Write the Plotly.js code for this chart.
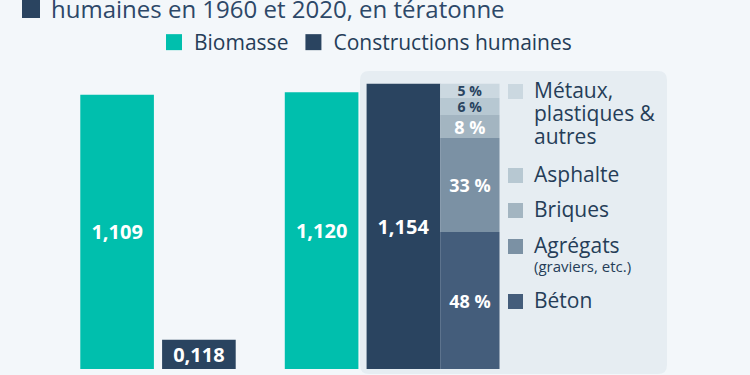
<!DOCTYPE html>
<html>
<head>
<meta charset="utf-8">
<script src="https://cdn.plot.ly/plotly-3.0.1.min.js"></script>
<style>
  html, body { margin: 0; padding: 0; background: #f3f7fa; }
  #chart { width: 750px; height: 375px; }
</style>
</head>
<body>
<div id="chart"></div>
<script>
// ---------- data ----------
const years = ['1960', '2020'];
const biomasse = [1.109, 1.120];            // teratonnes
const constructions = [0.118, 1.154];       // teratonnes
const components = ['Béton', 'Agrégats', 'Briques', 'Asphalte', 'Métaux, plastiques & autres'];
const componentPct = [48, 33, 8, 6, 5];     // % of 2020 human-made mass
const componentYear = '2020';
const titleText = 'humaines en 1960 et 2020, en tératonne';
const seriesNames = ['Biomasse', 'Constructions humaines'];

// ---------- styling ----------
const W = 750, H = 375;
const M = {l: 0, r: 0, t: 80, b: 6};
const plotW = W - M.l - M.r, plotH = H - M.t - M.b;
const bottomPx = H - M.b;
const pxPerUnit = 247.2;
const px2x = px => (px - M.l) / plotW;
const px2y = py => (bottomPx - py) / plotH;

const FONT = 'Open Sans, sans-serif';
const teal = '#00bfad';
const navy = '#2a4460';
const textNavy = '#253d58';
const compColors = ['#445d7b', '#7b91a4', '#a3b5c1', '#b7c8d2', '#cbd8e0'];
const compTextColors = ['#ffffff', '#ffffff', '#ffffff', navy, navy];
const compTextSizes = [18, 18, 18, 14, 14];

// ---------- traces ----------
const traces = [];
traces.push({
  type: 'bar', x: years, y: biomasse, name: seriesNames[0], showlegend: false,
  offset: -0.38, width: 0.36, marker: {color: teal, line: {width: 0}},
  texttemplate: '%{y:.3f}', textposition: 'inside', insidetextanchor: 'middle',
  textangle: 0, constraintext: 'none',
  textfont: {family: FONT, size: 20, color: '#ffffff', weight: 700}, hoverinfo: 'skip'
});
traces.push({
  type: 'bar', x: years, y: constructions, name: seriesNames[1], showlegend: false,
  offset: 0.02, width: 0.36, marker: {color: navy, line: {width: 0}},
  texttemplate: '%{y:.3f}', textposition: 'inside', insidetextanchor: 'middle',
  textangle: 0, constraintext: 'none',
  textfont: {family: FONT, size: 20, color: '#ffffff', weight: 700}, hoverinfo: 'skip'
});
const total2020 = constructions[years.indexOf(componentYear)];
let cum = 0;
components.forEach((c, i) => {
  const v = total2020 * componentPct[i] / 100;
  traces.push({
    type: 'bar', x: [componentYear], y: [v], base: [cum], name: c, showlegend: false,
    offset: 0.38, width: 0.29, marker: {color: compColors[i], line: {width: 0}},
    text: [componentPct[i] + ' %'], textposition: 'inside', insidetextanchor: 'middle',
    textangle: 0, constraintext: 'none',
    textfont: {family: FONT, size: compTextSizes[i], color: compTextColors[i], weight: 700},
    hoverinfo: 'skip'
  });
  cum += v;
});
// legend entries (top)
[teal, navy].forEach((col, i) => {
  traces.push({
    type: 'scatter', mode: 'markers', x: [null], y: [null], name: seriesNames[i],
    marker: {symbol: 'square', size: 16, color: col}, hoverinfo: 'skip'
  });
});

// ---------- layout decorations ----------
const shapes = [];
// grey panel with rounded corners
(function () {
  const x0 = 360, x1 = 667, y0 = 71, y1 = 374, r = 9;
  const X = px => px2x(px), Y = py => px2y(py);
  const path = `M ${X(x0 + r)},${Y(y0)} L ${X(x1 - r)},${Y(y0)} Q ${X(x1)},${Y(y0)} ${X(x1)},${Y(y0 + r)}` +
    ` L ${X(x1)},${Y(y1 - r)} Q ${X(x1)},${Y(y1)} ${X(x1 - r)},${Y(y1)}` +
    ` L ${X(x0 + r)},${Y(y1)} Q ${X(x0)},${Y(y1)} ${X(x0)},${Y(y1 - r)}` +
    ` L ${X(x0)},${Y(y0 + r)} Q ${X(x0)},${Y(y0)} ${X(x0 + r)},${Y(y0)} Z`;
  shapes.push({type: 'path', xref: 'paper', yref: 'paper', path: path,
    fillcolor: '#e6edf2', line: {width: 0}, layer: 'below'});
})();
// title square
shapes.push({type: 'rect', xref: 'paper', yref: 'paper',
  x0: px2x(22), x1: px2x(40), y0: px2y(18), y1: px2y(-1),
  fillcolor: '#2a4460', line: {width: 0}});

// right-hand component legend
const annotations = [];
const legItems = [
  {idx: 4, lines: ['Métaux,', 'plastiques &', 'autres'], base: 98},
  {idx: 3, lines: ['Asphalte'], base: 182},
  {idx: 2, lines: ['Briques'], base: 217},
  {idx: 1, lines: ['Agrégats'], base: 253, sub: '(graviers, etc.)'},
  {idx: 0, lines: ['Béton'], base: 308}
];
legItems.forEach(it => {
  shapes.push({type: 'rect', xref: 'paper', yref: 'paper',
    x0: px2x(508), x1: px2x(523), y0: px2y(it.base + 1), y1: px2y(it.base - 14),
    fillcolor: compColors[it.idx], line: {width: 0}});
  it.lines.forEach((ln, j) => {
    const b = it.base + j * 23;
    annotations.push({xref: 'paper', yref: 'paper', x: px2x(532), y: px2y(b - 0.388 * 21),
      xanchor: 'left', yanchor: 'middle', text: ln, showarrow: false,
      font: {family: FONT, size: 21, color: textNavy}});
  });
  if (it.sub) {
    const b = it.base + 19;
    annotations.push({xref: 'paper', yref: 'paper', x: px2x(532), y: px2y(b - 0.388 * 15),
      xanchor: 'left', yanchor: 'middle', text: it.sub, showarrow: false,
      font: {family: FONT, size: 15, color: textNavy}});
  }
});

const layout = {
  width: W, height: H,
  margin: M,
  paper_bgcolor: '#f3f7fa', plot_bgcolor: 'rgba(0,0,0,0)',
  separators: ', ',
  barmode: 'overlay',
  font: {family: FONT, color: textNavy},
  title: {text: titleText, font: {family: FONT, size: 24, color: '#2d4868'},
    xref: 'container', yref: 'container', x: 51 / W, xanchor: 'left',
    y: 1 - 9.6 / H, yanchor: 'middle', automargin: false},
  xaxis: {type: 'category', range: [-158 / 204.5, (W - 158) / 204.5],
    showgrid: false, zeroline: false, showticklabels: false, ticks: '', showline: false, fixedrange: true},
  yaxis: {range: [0, plotH / pxPerUnit], showgrid: false, zeroline: false, showticklabels: false,
    ticks: '', showline: false, fixedrange: true},
  showlegend: true,
  legend: {orientation: 'h', xref: 'container', yref: 'container',
    x: 154 / W, xanchor: 'left', y: 1 - 22 / H, yanchor: 'top',
    font: {family: FONT, size: 21, color: textNavy}, bgcolor: 'rgba(0,0,0,0)',
    itemclick: false, itemdoubleclick: false},
  shapes: shapes,
  annotations: annotations,
  hovermode: false
};

Plotly.newPlot('chart', traces, layout, {displayModeBar: false, staticPlot: true});
</script>
</body>
</html>
